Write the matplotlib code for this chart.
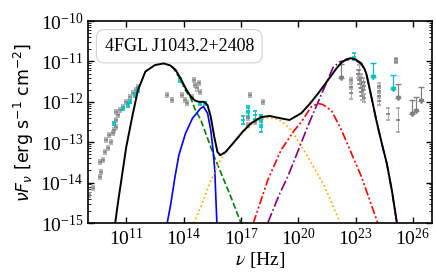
import numpy as np
import matplotlib.pyplot as plt
from matplotlib.ticker import LogLocator, NullLocator, NullFormatter

plt.rcParams["font.family"] = ["Liberation Serif", "DejaVu Serif"]
plt.rcParams["mathtext.fontset"] = "stix"

# ---- model curves (log10 nu, log10 nuFnu) ----
total_x = [10.42, 10.56, 11.0, 11.35, 11.61, 12.0, 12.5, 12.96, 13.3, 13.58, 13.84, 14.1,
           14.37, 14.6, 14.8, 15.07, 15.25, 15.42, 15.6, 15.77, 15.91, 16.2, 16.65, 17.09,
           17.53, 18.05, 18.5, 19.0, 19.54, 20.16, 20.6, 21.04, 21.4, 21.74, 22.0, 22.26,
           22.5, 22.75, 23.0, 23.3, 23.49, 23.58, 23.84, 24.1, 24.37, 24.63, 24.9, 25.16]
total_y = [-15.0, -14.51, -13.11, -12.28, -11.71, -11.25, -11.09, -11.05, -11.1, -11.21, -11.42, -11.66,
           -11.87, -11.97, -12.0, -12.0, -12.08, -12.37, -12.86, -13.24, -13.32, -13.24, -12.99, -12.74,
           -12.53, -12.38, -12.35, -12.4, -12.45, -12.28, -12.05, -11.79, -11.56, -11.34, -11.17, -11.03,
           -10.95, -10.92, -10.95, -11.05, -11.21, -11.34, -11.91, -12.49, -13.03, -13.52, -14.2, -15.0]

disk_x = [13.14, 13.32, 13.55, 13.75, 14.1, 14.46, 14.89, 15.04, 15.25, 15.42, 15.54, 15.63, 15.68, 15.74]
disk_y = [-15.0, -14.55, -13.85, -13.32, -12.78, -12.41, -12.16, -12.12, -12.28, -12.7, -13.19, -13.69, -14.3, -15.0]

syn_x = [13.4, 13.84, 14.1, 14.37, 14.61, 14.9, 15.25, 15.6, 15.86, 16.47, 17.0]
syn_y = [-11.12, -11.45, -11.72, -11.9, -12.2, -12.45, -12.9, -13.36, -13.65, -14.35, -15.0]

ssc_x = [14.53, 14.9, 15.42, 15.8, 16.1, 16.3, 16.65, 17.09, 17.53, 18.05, 18.5, 18.93,
         19.3, 19.63, 20.5, 21.38, 22.17]
ssc_y = [-15.0, -14.6, -13.95, -13.55, -13.3, -13.18, -13.0, -12.77, -12.57, -12.43, -12.39, -12.43,
         -12.55, -12.7, -13.36, -14.1, -14.97]

ecd_x = [17.65, 18.4, 19.1, 19.8, 20.16, 20.68, 21.04, 21.3, 21.56, 21.74, 22.26, 23.3, 24.16]
ecd_y = [-15.0, -13.94, -13.19, -12.7, -12.5, -12.12, -12.04, -12.07, -12.16, -12.22, -12.7, -13.85, -15.0]

ecb_x = [18.4, 19.0, 19.45, 20.0, 20.5, 20.86, 21.38, 21.82, 22.17, 22.5, 22.75, 23.0,
         23.3, 23.49, 23.58, 23.84, 24.1, 24.37, 24.63, 24.9, 25.16]
ecb_y = [-15.0, -14.3, -13.85, -13.2, -12.6, -12.2, -11.63, -11.15, -11.01, -10.97, -10.94, -10.97,
         -11.07, -11.22, -11.35, -11.92, -12.5, -13.04, -13.53, -14.22, -15.0]

# ---- archival data (grey) ----
grey_x = [9.07, 9.25, 9.6, 9.68, 9.6, 9.77, 9.86, 10.04, 9.95, 10.21, 10.12, 10.3, 10.38, 10.47,
          10.47, 10.56, 10.47, 10.65, 10.82, 11.0, 11.17, 11.35, 11.53, 11.61,
          13.12, 13.38, 13.91, 14.09, 14.17, 14.53, 14.61, 14.79, 14.7, 14.88, 14.44,
          17.45, 18.16, 17.37, 17.37, 17.72, 18.07,
          22.74, 22.74, 22.74, 23.15, 23.2, 23.25, 23.3, 23.3, 23.35, 23.4, 23.45, 23.45, 23.2,
          23.3, 23.4, 24.2, 24.2, 24.2, 24.2, 24.67, 25.1, 25.1, 25.2]
grey_y = [-14.31, -14.14, -13.85, -13.73, -13.48, -13.44, -13.24, -13.15, -12.95, -12.99, -12.82, -12.78, -12.7, -12.62,
          -12.45, -12.33, -12.24, -12.2, -12.12, -12.0, -11.87, -11.79, -11.71, -11.63,
          -11.83, -11.96, -11.83, -11.96, -12.04, -11.46, -11.58, -11.54, -11.67, -11.75, -11.87,
          -11.83, -12.0, -12.41, -12.57, -12.49, -12.37,
          -11.46, -11.63, -11.79, -11.3, -11.45, -11.55, -11.65, -11.75, -11.85, -11.5, -11.6, -11.9, -11.2,
          -11.4, -11.7, -11.6, -11.72, -11.85, -11.97, -12.31, -10.95, -11.02, -12.45]
grey_err = [0.05] * 41 + [0.06, 0.06, 0.15, 0.1, 0.1, 0.1, 0.1, 0.1, 0.1, 0.1, 0.1, 0.1, 0.1,
                          0.1, 0.1, 0.06, 0.06, 0.06, 0.12, 0.15, 0.03, 0.03, 0.3]

grey_ul_x = [22.26, 25.2, 25.95, 26.16, 26.43]
grey_ul_y = [-11.06, -11.55, -11.96, -11.87, -11.63]

# ---- quasi-simultaneous data (cyan) ----
cyan_x = [10.38, 10.82, 11.08, 11.17, 11.44, 11.61, 13.82, 14.88, 15.14,
          17.1, 17.37, 17.37, 17.72, 18.07, 18.07, 22.9]
cyan_y = [-12.53, -12.16, -12.08, -12.0, -11.83, -11.71, -11.46, -12.04, -12.04,
          -12.45, -12.16, -12.28, -12.33, -12.45, -12.62, -10.88]
cyan_err = [0.04] * 9 + [0.1, 0.06, 0.06, 0.1, 0.12, 0.12, 0.08]

cyan_ul_x = [23.92, 24.95]
cyan_ul_y = [-11.05, -11.34]

x_ticks = [1e11, 1e14, 1e17, 1e20, 1e23, 1e26]
y_ticks = [1e-15, 1e-14, 1e-13, 1e-12, 1e-11, 1e-10]

source_name = "4FGL J1043.2+2408"


def lin(v):
    return 10.0 ** np.asarray(v)


fig = plt.figure(figsize=(4.36, 2.73), dpi=100)
ax = fig.add_axes([0.202, 0.183, 0.789, 0.74])

# data points
gy = lin(grey_y)
ge = np.asarray(grey_err)
ax.errorbar(lin(grey_x), gy, yerr=[gy * (1 - 10 ** -ge), gy * (10 ** ge - 1)],
            fmt='_', ms=3, mew=1.2, color='grey', ecolor='darkgrey', elinewidth=0.8,
            capsize=1.5, zorder=2)
cy = lin(cyan_y)
ce = np.asarray(cyan_err)
ax.errorbar(lin(cyan_x), cy, yerr=[cy * (1 - 10 ** -ce), cy * (10 ** ce - 1)],
            fmt='_', ms=3, mew=1.2, color='c', ecolor='c', elinewidth=0.8,
            capsize=1.5, zorder=3)

# upper limits: cap at the value, arrow pointing down
for xs, ys, col in [(grey_ul_x, grey_ul_y, 'grey'), (cyan_ul_x, cyan_ul_y, 'c')]:
    ux, uy = lin(xs), lin(ys)
    ax.errorbar(ux, uy, yerr=[uy * 0.55, uy * 0], fmt='none', ecolor=col,
                elinewidth=0.9, capsize=2, zorder=3)
    ax.plot(ux, uy * 0.45, 'v', color=col, ms=3, zorder=3)

# model components
ax.plot(lin(syn_x), lin(syn_y), '--', color='green', lw=1.2)
ax.plot(lin(disk_x), lin(disk_y), '-', color='blue', lw=1.2)
ax.plot(lin(ssc_x), lin(ssc_y), ':', color='orange', lw=1.2)
ax.plot(lin(ecd_x), lin(ecd_y), color='red', lw=1.2, dashes=(5, 1.5, 1.2, 1.5, 1.2, 1.5))
ax.plot(lin(ecb_x), lin(ecb_y), '-.', color='purple', lw=1.2)
ax.plot(lin(total_x), lin(total_y), '-', color='black', lw=1.4, zorder=4)

ax.set_xscale('log')
ax.set_yscale('log')
ax.set_xlim(1e9, 1e27)
ax.set_ylim(1e-15, 1e-10)

ax.set_xticks(x_ticks)
ax.set_yticks(y_ticks)
ax.xaxis.set_minor_locator(NullLocator())
ax.yaxis.set_minor_locator(LogLocator(base=10, subs=np.arange(2, 10), numticks=20))
ax.yaxis.set_minor_formatter(NullFormatter())
ax.tick_params(which='both', direction='in', top=True, right=True, labelsize=14)
ax.tick_params(which='major', length=4, width=1)
ax.tick_params(which='minor', length=2, width=0.6)
for s in ax.spines.values():
    s.set_linewidth(1.2)

ax.set_xlabel(r'$\nu$ [Hz]', fontsize=14, labelpad=1)
ax.set_ylabel(r'$\nu F_\nu$ [erg s$^{-1}$ cm$^{-2}$]', fontsize=12.5,
              family='DejaVu Sans', math_fontfamily='dejavusans', labelpad=3)

ax.text(0.265, 0.875, source_name, transform=ax.transAxes, fontsize=13,
        ha='center', va='center',
        bbox=dict(boxstyle='round,pad=0.45', fc='white', ec='lightgrey', lw=0.8))

fig.savefig('out.png', dpi=100)
